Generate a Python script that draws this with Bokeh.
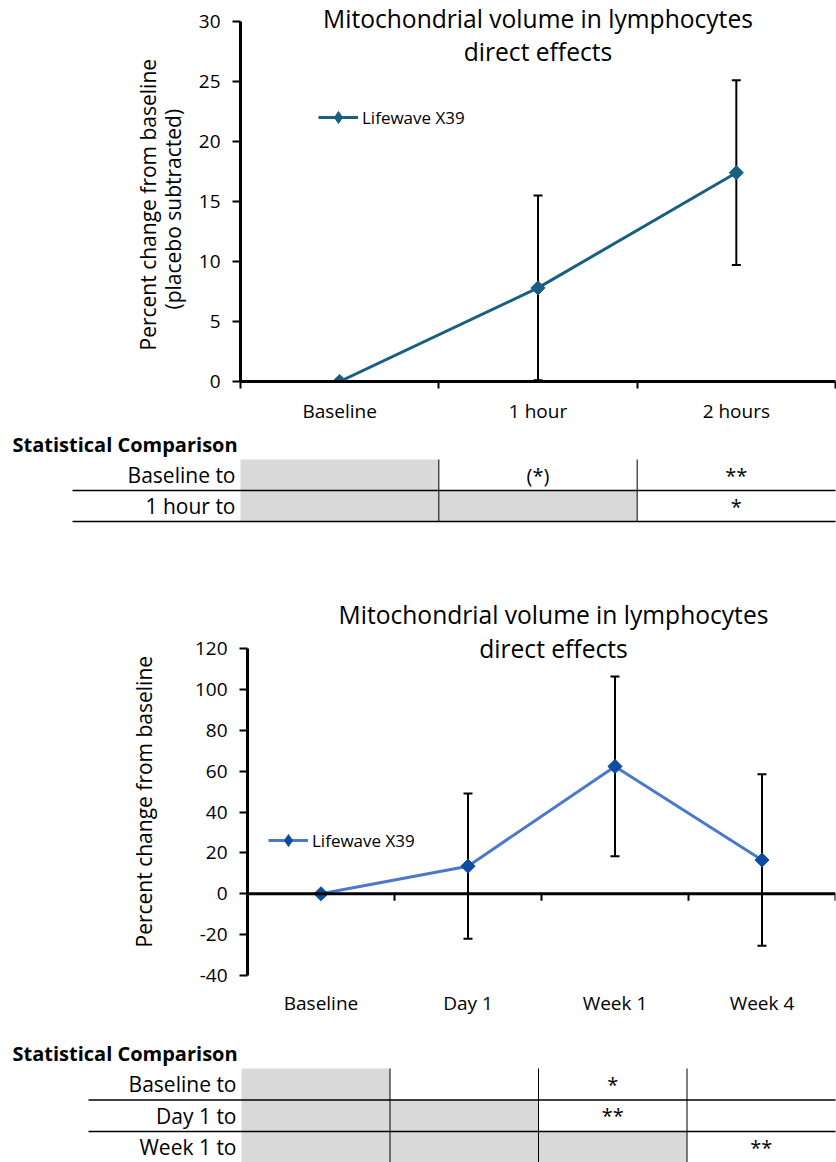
import numpy as np
from bokeh.plotting import figure
from bokeh.models import (Range1d, FixedTicker, Whisker, TeeHead, ColumnDataSource,
                          Label, Legend, LegendItem, Span, Title)
from bokeh.layouts import column
from bokeh.embed import file_html
from bokeh.resources import INLINE
from bokeh.core.properties import value

# ---------------- data ----------------
series_name = "Lifewave X39"
title_lines = ["Mitochondrial volume in lymphocytes", "direct effects"]

cats1 = ["Baseline", "1 hour", "2 hours"]
vals1 = [0.0, 7.8, 17.4]
err1 = [0.0, 7.7, 7.7]
yticks1 = [0, 5, 10, 15, 20, 25, 30]
ylabel1 = ["Percent change from baseline", "(placebo subtracted)"]

cats2 = ["Baseline", "Day 1", "Week 1", "Week 4"]
vals2 = [0.0, 13.5, 62.3, 16.5]
err2 = [0.0, 35.5, 44.0, 42.0]
yticks2 = [-40, -20, 0, 20, 40, 60, 80, 100, 120]
ylabel2 = ["Percent change from baseline"]

table_title = "Statistical Comparison"
rows1 = ["Baseline to", "1 hour to"]
cells1 = [["", "(*)", "**"],
          ["", "", "*"]]
rows2 = ["Baseline to", "Day 1 to", "Week 1 to"]
cells2 = [["", "", "*", ""],
          ["", "", "**", ""],
          ["", "", "", "**"]]

FONT = "Open Sans"
W = 836


def chart(cats, vals, errs, yticks, ylabels, ylabel_specs, fig_h, left, axis_top,
          bottom, line_color, marker_color, legend_loc, title_offsets, title_dx,
          xlabel_standoff, axis_at_zero):
    n = len(cats)
    ymin, ymax = yticks[0], yticks[-1]
    axis_px = fig_h - axis_top - bottom
    y_end = ymax + axis_top * (ymax - ymin) / axis_px   # frame reaches figure top
    p = figure(width=W, height=fig_h, x_range=Range1d(0, n),
               y_range=Range1d(ymin, y_end),
               output_backend="svg", toolbar_location=None,
               min_border_left=left, min_border_right=1,
               min_border_top=0, min_border_bottom=bottom)
    p.frame_align = False
    p.outline_line_color = None
    p.grid.visible = False

    # y axis
    ya = p.yaxis[0]
    ya.bounds = (ymin, ymax)
    ya.ticker = FixedTicker(ticks=yticks, minor_ticks=[])
    ya.major_label_overrides = {t: str(t) for t in yticks}
    ya.axis_line_width = 3
    ya.axis_line_color = "black"
    ya.major_tick_out = 8
    ya.major_tick_in = 0
    ya.major_tick_line_width = 2
    ya.minor_tick_line_color = None
    ya.major_label_text_font = FONT
    ya.major_label_text_font_size = "19px"
    ya.major_label_text_color = "black"
    ya.major_label_standoff = 12

    # y axis title lines (closest to the axis first)
    for txt, (off, so, va) in reversed(list(zip(ylabels, ylabel_specs))):
        p.add_layout(Title(text=txt, align="left", offset=off, standoff=so,
                           vertical_align=va, text_font=FONT,
                           text_font_size="21px", text_font_style="normal",
                           text_color="black"), "left")

    # x axis: labels at category centres, tick marks at category boundaries
    centers = [i + 0.5 for i in range(n)]
    bounds = list(range(n + 1))
    xa = p.xaxis[0]
    xa.major_label_text_font = FONT
    xa.major_label_text_font_size = "19px"
    xa.major_label_text_color = "black"
    xa.major_label_overrides = {float(c): lab for c, lab in zip(centers, cats)}
    xa.major_tick_out = 0
    xa.major_tick_in = 0
    xa.major_label_standoff = xlabel_standoff
    if axis_at_zero:
        xa.ticker = FixedTicker(ticks=centers, minor_ticks=[])
        xa.axis_line_color = None
        xa.minor_tick_line_color = None
        xa.major_tick_line_color = None
        p.add_layout(Span(location=0, dimension="width", line_color="black",
                          line_width=3))
        tick_len = 7 * (ymax - ymin) / axis_px
        p.segment(x0=bounds[1:], y0=[0] * n, x1=bounds[1:], y1=[-tick_len] * n,
                  line_color="black", line_width=2)
    else:
        xa.ticker = FixedTicker(ticks=centers, minor_ticks=bounds)
        xa.axis_line_width = 3
        xa.axis_line_color = "black"
        xa.major_tick_line_color = None
        xa.minor_tick_out = 7
        xa.minor_tick_in = 0
        xa.minor_tick_line_width = 2
        xa.minor_tick_line_color = "black"

    # series
    x = centers
    r_line = p.line(x, vals, line_color=line_color, line_width=3)
    eb = [(xi, v + e, v - e) for xi, v, e in zip(x, vals, errs) if e > 0]
    src = ColumnDataSource(dict(x=[t[0] for t in eb], upper=[t[1] for t in eb],
                                lower=[t[2] for t in eb]))
    wh = Whisker(base="x", upper="upper", lower="lower", source=src,
                 dimension="height", line_color="black", line_width=2,
                 upper_head=TeeHead(size=9, line_width=2, line_color="black"),
                 lower_head=TeeHead(size=9, line_width=2, line_color="black"),
                 level="underlay")
    p.add_layout(wh)
    p.scatter(x, vals, marker="square", angle=np.pi / 4, size=10,
              fill_color=marker_color, line_color=marker_color)
    # legend proxy (no drawable points), shows a diamond in the legend
    r_leg = p.scatter([np.nan], [np.nan], marker="diamond", size=14,
                      fill_color=marker_color, line_color=marker_color)

    leg = Legend(items=[LegendItem(label=series_name, renderers=[r_line, r_leg])],
                 location=legend_loc, glyph_width=40, glyph_height=30,
                 padding=0, margin=0, spacing=0, label_standoff=4,
                 border_line_alpha=0, background_fill_alpha=0,
                 label_text_font=FONT, label_text_font_size="17px",
                 label_text_color="black")
    p.add_layout(leg)

    for txt, off in zip(title_lines, title_offsets):
        p.add_layout(Label(x=n / 2, y=ymax, x_offset=title_dx, y_offset=off, text=txt,
                           text_align="center", text_baseline="middle",
                           text_font=FONT, text_font_size="24.6px",
                           text_color="black"))
    return p


def table(rows, cells, fig_h, title_y, row_top, row_h, gx_left, gx_right,
          line_left, label_right):
    ncol = len(cells[0])
    nrow = len(rows)
    p = figure(width=W, height=fig_h, x_range=Range1d(0, W),
               y_range=Range1d(fig_h, 0), output_backend="svg",
               toolbar_location=None, x_axis_location=None,
               y_axis_location=None, min_border=0)
    p.frame_align = False
    p.outline_line_color = None
    p.grid.visible = False
    cw = (gx_right - gx_left) / ncol
    gx = [gx_left + i * cw for i in range(ncol + 1)]

    # grey cells (diagonal and below)
    L, R, T, B = [], [], [], []
    for r in range(nrow):
        for c in range(ncol):
            if c <= r:
                L.append(gx[c]); R.append(gx[c + 1])
                T.append(row_top + r * row_h); B.append(row_top + (r + 1) * row_h)
    p.quad(left=L, right=R, top=T, bottom=B, fill_color="#d9d9d9", line_color=None)

    # horizontal rules under each row
    ys = [row_top + (r + 1) * row_h for r in range(nrow)]
    p.segment(x0=[line_left] * nrow, y0=ys, x1=[gx_right] * nrow, y1=ys,
              line_color="black", line_width=1.5)
    # vertical rules between data columns
    vx = gx[1:-1]
    p.segment(x0=vx, y0=[row_top] * len(vx), x1=vx,
              y1=[row_top + nrow * row_h] * len(vx), line_color="black", line_width=1)

    # title
    p.text(x=[12], y=[title_y], text=[table_title], text_font=value(FONT),
           text_font_size="20px", text_font_style="bold", text_baseline="middle",
           text_align="left", text_color="black")
    # row labels
    p.text(x=[label_right] * nrow, y=[row_top + (r + 0.5) * row_h for r in range(nrow)],
           text=rows, text_font=value(FONT), text_font_size="21px",
           text_align="right", text_baseline="middle", text_color="black")
    # cell texts
    cx, cy, ct = [], [], []
    for r in range(nrow):
        for c in range(ncol):
            if cells[r][c]:
                cx.append((gx[c] + gx[c + 1]) / 2)
                cy.append(row_top + (r + 0.5) * row_h)
                ct.append(cells[r][c])
    p.text(x=cx, y=cy, text=ct, text_font=value(FONT), text_font_size="20px",
           text_align="center", text_baseline="middle", text_color="black")
    return p


# ylabel specs: (offset from frame bottom, standoff, vertical_align)
p1 = chart(cats1, vals1, err1, yticks1, ylabel1,
           [(31, -23, "bottom"), (72, 15, "middle")],
           fig_h=430, left=240, axis_top=21, bottom=49,
           line_color="#195F82", marker_color="#195F82",
           legend_loc=(78, 249), title_offsets=[3, -30], title_dx=0,
           xlabel_standoff=9, axis_at_zero=False)
t1 = table(rows1, cells1, fig_h=110, title_y=14, row_top=29, row_h=31,
           gx_left=240, gx_right=835, line_left=72, label_right=235)
p2 = chart(cats2, vals2, err2, yticks2, ylabel2, [(28, 66, "middle")],
           fig_h=495, left=247, axis_top=108, bottom=60,
           line_color="#4A79CC", marker_color="#0C4DA2",
           legend_loc=(21, 120), title_offsets=[34, 0], title_dx=12,
           xlabel_standoff=14, axis_at_zero=True)
t2 = table(rows2, cells2, fig_h=127, title_y=18, row_top=33, row_h=31.5,
           gx_left=241, gx_right=835, line_left=88, label_right=236)

layout = column(p1, t1, p2, t2, spacing=0)
open("out.html", "w").write(file_html(layout, INLINE))
